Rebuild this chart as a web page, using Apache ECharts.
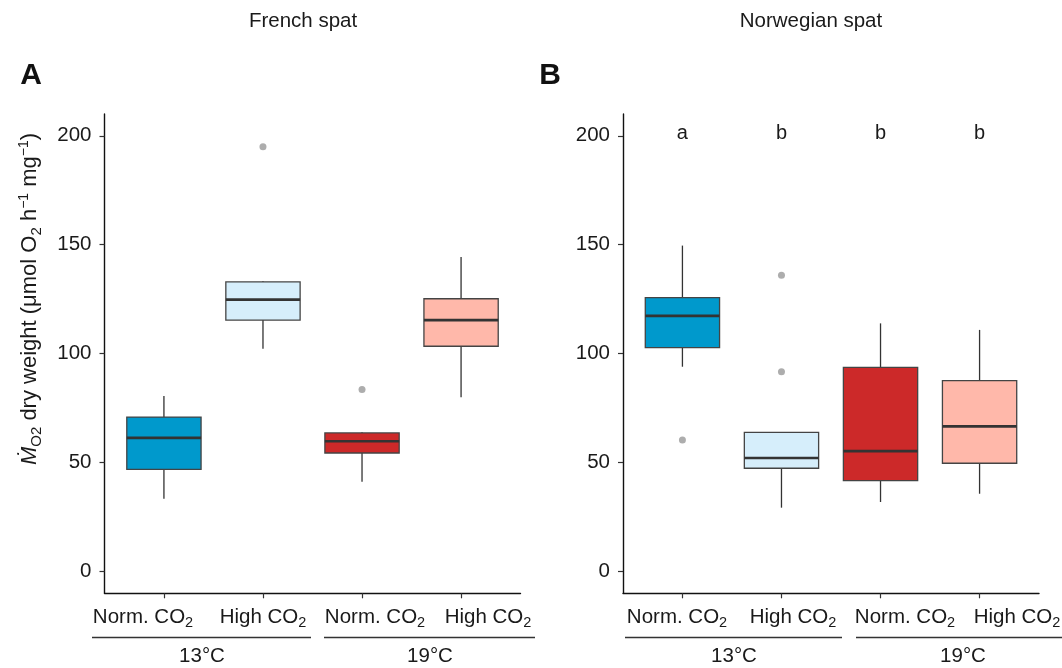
<!DOCTYPE html>
<html>
<head>
<meta charset="utf-8">
<title>Oxygen consumption of French and Norwegian spat</title>
<script src="https://cdn.jsdelivr.net/npm/echarts@6/dist/echarts.min.js"></script>
<style>
  html, body { margin: 0; padding: 0; background: #ffffff; }
  #chart { width: 1062px; height: 668px; }
</style>
</head>
<body>
<div id="chart"></div>
<script>
// Treatment groups along each panel (positions 1..4 on the x axis)
const categories = ['Norm. CO2', 'High CO2', 'Norm. CO2', 'High CO2'];
const temperatures = ['13°C', '19°C'];
const yTicks = [0, 50, 100, 150, 200];

// Box statistics per group: [lower whisker, Q1, median, Q3, upper whisker]
const frenchStats = [
  [33.4, 46.9, 61.3, 70.9, 80.6],
  [102.3, 115.4, 124.8, 132.9, 133.2],
  [41.2, 54.4, 59.8, 63.6, 63.9],
  [80.0, 103.4, 115.4, 125.2, 144.4]
];
const norwegianStats = [
  [94.0, 102.8, 117.3, 125.7, 149.6],
  [29.3, 47.4, 52.1, 63.9, 63.9],
  [31.9, 41.7, 55.3, 93.7, 113.9],
  [35.7, 49.7, 66.6, 87.6, 110.9]
];

// Outlying observations: [group position, value]
const frenchOutliers = [[2, 195.0], [3, 83.5]];
const norwegianOutliers = [[1, 60.4], [2, 136.0], [2, 91.7]];

// Post-hoc grouping letters for the Norwegian panel
const norwegianLetters = ['a', 'b', 'b', 'b'];
const letterLevel = 200;

const fills = ['#0099cc', '#d6eefb', '#cc2929', '#ffb8aa'];
const FONT = '"Liberation Sans", Arial, Helvetica, sans-serif';
const INK = '#1a1a1a';

function boxData(stats) {
  return stats.map((s, i) => [i + 1].concat(s));
}

function renderBox(params, api) {
  const x = api.value(0);
  const pLow = api.coord([x, api.value(1)]);
  const pQ1 = api.coord([x, api.value(2)]);
  const pMed = api.coord([x, api.value(3)]);
  const pQ3 = api.coord([x, api.value(4)]);
  const pHigh = api.coord([x, api.value(5)]);
  const cx = pMed[0];
  const w = api.size([1, 0])[0] * 0.75;
  const whisker = { stroke: '#333333', lineWidth: 1.3 };
  return {
    type: 'group',
    children: [
      { type: 'line', shape: { x1: cx, y1: pQ1[1], x2: cx, y2: pLow[1] }, style: whisker },
      { type: 'line', shape: { x1: cx, y1: pQ3[1], x2: cx, y2: pHigh[1] }, style: whisker },
      {
        type: 'rect',
        shape: { x: cx - w / 2, y: pQ3[1], width: w, height: pQ1[1] - pQ3[1] },
        style: { fill: fills[x - 1], stroke: '#444444', lineWidth: 1.3 }
      },
      {
        type: 'line',
        shape: { x1: cx - w / 2, y1: pMed[1], x2: cx + w / 2, y2: pMed[1] },
        style: { stroke: '#333333', lineWidth: 2.7 }
      }
    ]
  };
}

function renderLetter(params, api) {
  const p = api.coord([api.value(0), api.value(1)]);
  return {
    type: 'text',
    x: p[0],
    y: p[1] - 2,
    style: {
      text: norwegianLetters[params.dataIndex],
      fontSize: 20, fontFamily: FONT, fill: INK,
      textAlign: 'center', textVerticalAlign: 'middle'
    }
  };
}

const xAxisBase = {
  type: 'value', min: 0.4, max: 4.6,
  axisLine: { show: true, onZero: false, lineStyle: { color: '#111111', width: 1.4 } },
  axisTick: { show: true, customValues: [1, 2, 3, 4], length: 5, lineStyle: { color: '#333333', width: 1.2 } },
  axisLabel: { show: false },
  splitLine: { show: false }
};
const yAxisBase = {
  type: 'value', min: -10, max: 210,
  axisLine: { show: true, onZero: false, lineStyle: { color: '#111111', width: 1.4 } },
  axisTick: { show: true, customValues: yTicks, length: 5, lineStyle: { color: '#333333', width: 1.2 } },
  axisLabel: { show: true, customValues: yTicks, fontSize: 20.5, fontFamily: FONT, color: INK, margin: 13 },
  splitLine: { show: false }
};

// Treatment labels and temperature brackets below each panel
const labelRich = {
  t: { fontSize: 20.5, fontFamily: FONT, fill: INK },
  s: { fontSize: 14.5, fontFamily: FONT, fill: INK, padding: [12, 0, 0, 0] }
};
function treatmentText(name, x) {
  const base = name.replace('CO2', 'CO');
  return {
    type: 'text', x: x, y: 617,
    style: {
      text: '{t|' + base + '}{s|2}', rich: labelRich,
      textAlign: 'center', textVerticalAlign: 'middle'
    }
  };
}
const labelCentres = [143, 263, 375, 488, 677, 793, 905, 1017];
const bracketSpans = [[92, 311], [324, 535], [625, 842], [856, 1070]];
const tempCentres = [202, 430, 734, 963];

const graphics = [];
labelCentres.forEach((x, i) => graphics.push(treatmentText(categories[i % 4], x)));
bracketSpans.forEach(s => graphics.push({
  type: 'line', shape: { x1: s[0], y1: 637.5, x2: s[1], y2: 637.5 },
  style: { stroke: '#333333', lineWidth: 1.3 }
}));
tempCentres.forEach((x, i) => graphics.push({
  type: 'text', x: x, y: 656,
  style: { text: temperatures[i % 2], fontSize: 20.5, fontFamily: FONT, fill: INK, textAlign: 'center', textVerticalAlign: 'middle' }
}));

// Panel headings and tags
graphics.push(
  { type: 'text', x: 303, y: 21, style: { text: 'French spat', fontSize: 20.5, fontFamily: FONT, fill: INK, textAlign: 'center', textVerticalAlign: 'middle' } },
  { type: 'text', x: 811, y: 21, style: { text: 'Norwegian spat', fontSize: 20.5, fontFamily: FONT, fill: INK, textAlign: 'center', textVerticalAlign: 'middle' } },
  { type: 'text', x: 31, y: 76, style: { text: 'A', fontSize: 30, fontWeight: 'bold', fontFamily: FONT, fill: '#111111', textAlign: 'center', textVerticalAlign: 'middle' } },
  { type: 'text', x: 550, y: 76, style: { text: 'B', fontSize: 30, fontWeight: 'bold', fontFamily: FONT, fill: '#111111', textAlign: 'center', textVerticalAlign: 'middle' } }
);

// Y axis title with subscripts and superscripts
graphics.push({
  type: 'text', x: 30, y: 299, rotation: Math.PI / 2,
  style: {
    text: '{mi|Ṁ}{sub|O2}{t| dry weight (μmol O}{sub|2}{t| h}{sup|−1}{t| mg}{sup|−1}{t|)}',
    textAlign: 'center', textVerticalAlign: 'middle',
    rich: {
      t: { fontSize: 22, fontFamily: FONT, fill: INK },
      mi: { fontSize: 22, fontFamily: FONT, fill: INK, fontStyle: 'italic' },
      sub: { fontSize: 15, fontFamily: FONT, fill: INK, padding: [13, 0, 0, 0] },
      sup: { fontSize: 14, fontFamily: FONT, fill: INK, padding: [0, 0, 12, 0] }
    }
  }
});

const chart = echarts.init(document.getElementById('chart'), null, { renderer: 'canvas' });
chart.setOption({
  animation: false,
  backgroundColor: '#ffffff',
  grid: [
    { left: 104.5, top: 114, width: 416, height: 479.3 },
    { left: 623, top: 114, width: 416, height: 479.3 }
  ],
  xAxis: [
    Object.assign({ gridIndex: 0 }, xAxisBase),
    Object.assign({ gridIndex: 1 }, xAxisBase)
  ],
  yAxis: [
    Object.assign({ gridIndex: 0 }, yAxisBase),
    Object.assign({ gridIndex: 1 }, yAxisBase)
  ],
  series: [
    { type: 'custom', name: 'French spat', xAxisIndex: 0, yAxisIndex: 0, renderItem: renderBox, data: boxData(frenchStats), encode: { x: 0, y: [1, 2, 3, 4, 5] } },
    { type: 'custom', name: 'Norwegian spat', xAxisIndex: 1, yAxisIndex: 1, renderItem: renderBox, data: boxData(norwegianStats), encode: { x: 0, y: [1, 2, 3, 4, 5] } },
    { type: 'scatter', xAxisIndex: 0, yAxisIndex: 0, data: frenchOutliers, symbolSize: 7, itemStyle: { color: '#999999' } },
    { type: 'scatter', xAxisIndex: 1, yAxisIndex: 1, data: norwegianOutliers, symbolSize: 7, itemStyle: { color: '#999999' } },
    { type: 'custom', xAxisIndex: 1, yAxisIndex: 1, renderItem: renderLetter, data: norwegianLetters.map((l, i) => [i + 1, letterLevel]) }
  ],
  graphic: graphics
});
</script>
</body>
</html>
